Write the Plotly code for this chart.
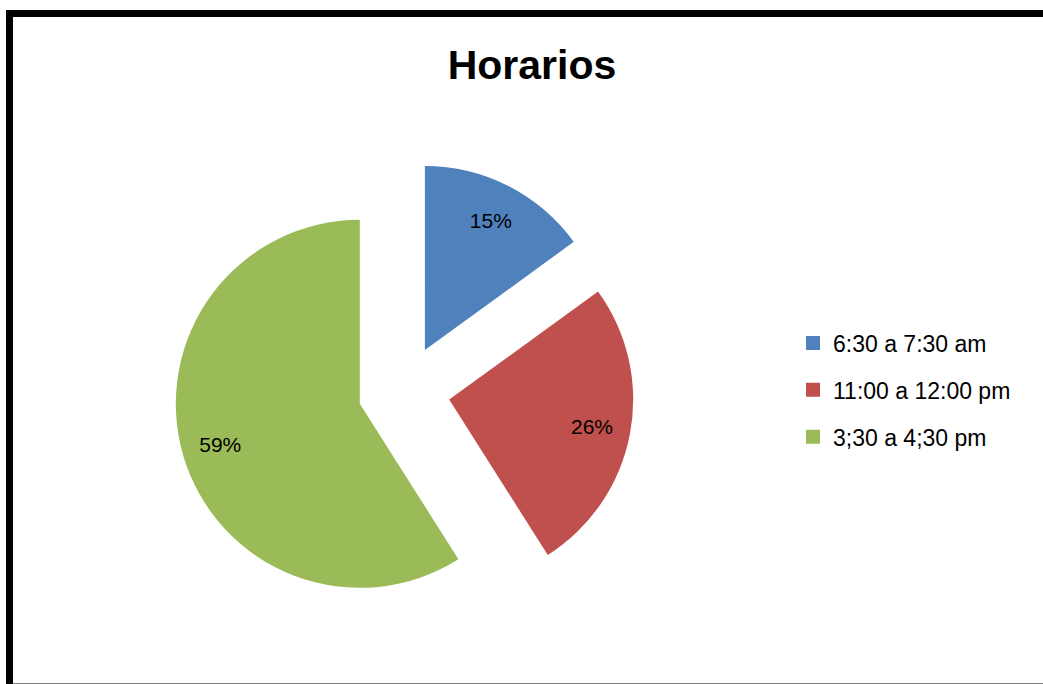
import plotly.graph_objects as go

# Datos del grafico de pastel
horarios = ['6:30 a 7:30 am', '11:00 a 12:00 pm', '3;30 a 4;30 pm']
porcentajes = [15, 26, 59]
colores = ['#4F81BD', '#C0504D', '#9BBB59']

W, H = 1043, 684
dominio = dict(x=[174 / W, 634 / W], y=[1 - 621 / H, 1 - 161 / H])
separacion = [0.25, 0.25, 0.25]

fig = go.Figure()

# Pastel con las porciones separadas
fig.add_trace(go.Pie(
    labels=horarios,
    values=porcentajes,
    marker=dict(colors=colores, line=dict(width=0)),
    pull=separacion,
    sort=False,
    direction='clockwise',
    rotation=0,
    textinfo='none',
    showlegend=False,
    hoverinfo='label+percent',
    domain=dominio,
))

# Mismo pastel transparente con hueco, solo para llevar las etiquetas hacia el borde
fig.add_trace(go.Pie(
    labels=horarios,
    values=porcentajes,
    marker=dict(colors=['rgba(0,0,0,0)'] * 3, line=dict(width=0)),
    pull=separacion,
    hole=0.58,
    sort=False,
    direction='clockwise',
    rotation=0,
    textinfo='percent',
    textposition='inside',
    insidetextorientation='horizontal',
    textfont=dict(family='Liberation Sans', size=21, color='black'),
    showlegend=False,
    hoverinfo='skip',
    domain=dominio,
))

# Leyenda con marcadores cuadrados, uno por grupo para poder espaciarlos
for nombre, color in zip(horarios, colores):
    fig.add_trace(go.Scatter(
        x=[None], y=[None],
        mode='markers',
        name=nombre,
        legendgroup=nombre,
        marker=dict(symbol='square', size=14, color=color),
        hoverinfo='skip',
    ))

# Borde negro del area del grafico
fig.add_shape(
    type='rect', xref='paper', yref='paper',
    x0=9.5 / W, x1=1.05, y0=1 - 687 / H, y1=1 - 13.5 / H,
    line=dict(color='black', width=7),
    fillcolor='rgba(0,0,0,0)',
    layer='above',
)

fig.update_layout(
    width=W,
    height=H,
    margin=dict(l=0, r=0, t=0, b=0),
    paper_bgcolor='white',
    plot_bgcolor='white',
    title=dict(
        text='<b>Horarios</b>',
        x=532 / W, xanchor='center',
        y=1 - 65 / H, yanchor='middle',
        font=dict(family='Liberation Sans', size=41, color='black'),
    ),
    xaxis=dict(visible=False),
    yaxis=dict(visible=False),
    legend=dict(
        x=793 / W, xanchor='left',
        y=1 - 390 / H, yanchor='middle',
        font=dict(family='Liberation Sans', size=23, color='black'),
        tracegroupgap=14,
        bgcolor='rgba(0,0,0,0)',
    ),
    font=dict(family='Liberation Sans'),
)

fig.write_html(
    'out.html',
    config={'displayModeBar': False},
    post_script="document.body.style.margin='0';document.body.style.overflow='hidden';",
)
